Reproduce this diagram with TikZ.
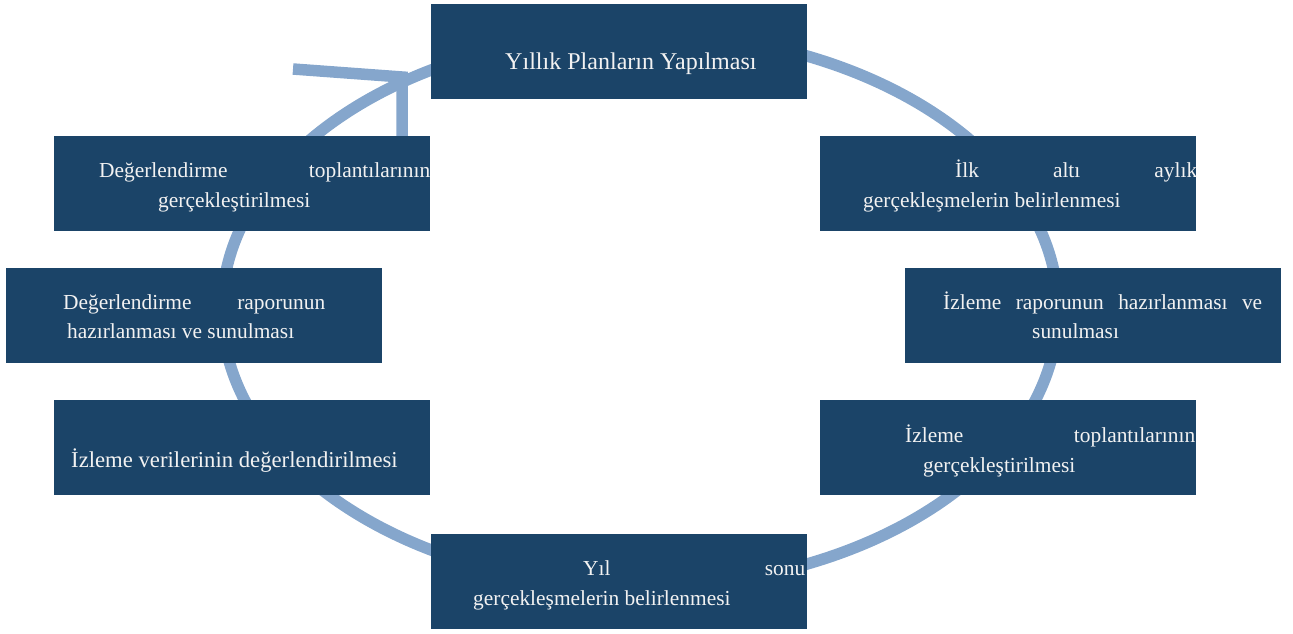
\documentclass[tikz,border=0pt]{standalone}
\usepackage{fontspec}
\setmainfont{Liberation Serif}
\definecolor{boxblue}{RGB}{27,68,104}
\definecolor{ringblue}{RGB}{133,166,204}
\definecolor{txtwhite}{RGB}{242,242,242}
\begin{document}
\begin{tikzpicture}[x=1pt,y=-1pt,
  box/.style={fill=boxblue, draw=none, rectangle, minimum width=376pt, minimum height=94.5pt, anchor=north west, inner sep=0pt},
  ring/.style={draw=ringblue, line width=11.5pt},
  txtline/.style={anchor=base west, inner sep=0pt, text=txtwhite, font=\fontsize{21.4}{25}\selectfont}
]
\useasboundingbox (0,0) rectangle (1293,633);
% cycle ring
\coordinate (c) at (640,310);
\draw[ring] (c) ellipse [x radius=418, y radius=277];
% arrow head (open chevron)
\coordinate (tip) at (402,77);
\coordinate (armA) at (293,69);
\coordinate (armB) at (402,187);
\draw[ring, line join=miter] (armA) -- (tip) -- (armB);
% boxes
\node[box] (b1) at (431,4) {};
\node[box] (b2) at (820,136) {};
\node[box] (b3) at (905,268) {};
\node[box] (b4) at (820,400) {};
\node[box] (b5) at (431,534) {};
\node[box] (b6) at (54,400) {};
\node[box] (b7) at (6,268) {};
\node[box] (b8) at (54,136) {};
% texts
\node[txtline, font=\fontsize{24.05}{28}\selectfont] (t1) at (505,69) {Yıllık Planların Yapılması};
\node[txtline] (t2a) at (955,177) {\hbox to 242pt{İlk\hfill altı\hfill aylık}};
\node[txtline] (t2b) at (863,207) {gerçekleşmelerin belirlenmesi};
\node[txtline] (t3a) at (943,309) {\hbox to 319pt{İzleme\hfill raporunun\hfill hazırlanması\hfill ve}};
\node[txtline] (t3b) at (1032,338) {sunulması};
\node[txtline] (t4a) at (905,442) {\hbox to 290pt{İzleme\hfill toplantılarının}};
\node[txtline] (t4b) at (923,472) {gerçekleştirilmesi};
\node[txtline] (t5a) at (583,575) {\hbox to 222pt{Yıl\hfill sonu}};
\node[txtline] (t5b) at (473,605) {gerçekleşmelerin belirlenmesi};
\node[txtline, font=\fontsize{22.7}{27}\selectfont] (t6) at (71,467) {İzleme verilerinin değerlendirilmesi};
\node[txtline] (t7a) at (63,309) {\hbox to 262pt{Değerlendirme\hfill raporunun}};
\node[txtline] (t7b) at (67,338) {hazırlanması ve sunulması};
\node[txtline] (t8a) at (99,177) {\hbox to 331pt{Değerlendirme\hfill toplantılarının}};
\node[txtline] (t8b) at (158,207) {gerçekleştirilmesi};
\end{tikzpicture}
\end{document}
